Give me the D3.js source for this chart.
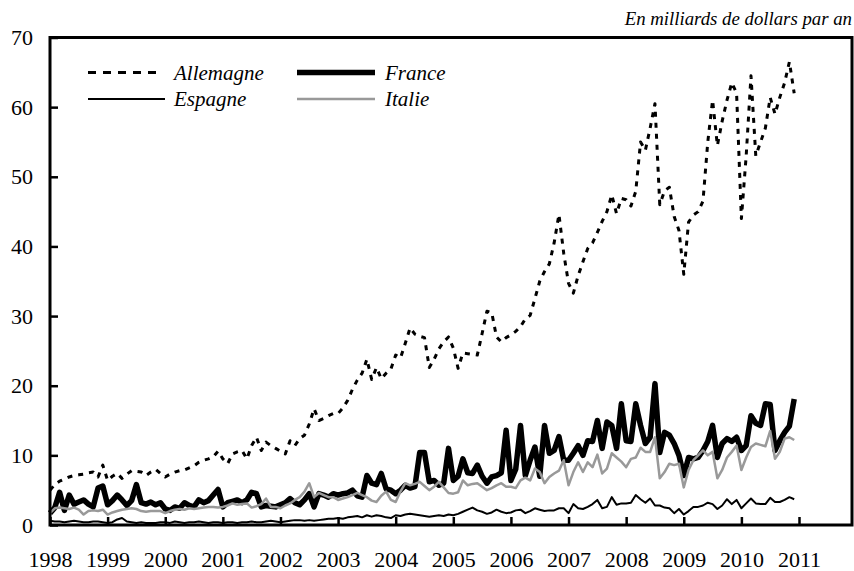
<!DOCTYPE html>
<html>
<head>
<meta charset="utf-8">
<script src="https://d3js.org/d3.v7.min.js"></script>
<style>
    body { margin: 0; background: #fff; }
    svg { display: block; }
    text { font-family: 'Liberation Serif', 'Times New Roman', serif; fill: #000; }
</style>
</head>
<body>
<div id="chart"></div>
<script>

// monthly data, jan 1998 -> dec 2010, billions of dollars per year
var startYear = 1998;

var tickYears = [1998, 1999, 2000, 2001, 2002, 2003, 2004, 2005, 2006, 2007, 2008, 2009, 2010, 2011];
var tickValues = [0, 10, 20, 30, 40, 50, 60, 70];

var allemagne = [
    5.0, 5.8, 6.3, 6.6, 6.9, 7.1, 7.2, 7.3, 7.5, 7.6, 6.9, 8.6,
    6.4, 7.0, 7.4, 6.7, 7.3, 7.8, 7.7, 7.6, 7.1, 7.6, 8.0, 7.4,
    6.9, 7.3, 7.6, 7.8, 7.9, 8.2, 8.5, 9.0, 9.3, 9.5, 9.8, 10.6,
    9.5, 8.8, 10.2, 10.5, 10.7, 9.5, 11.4, 12.6, 10.7, 11.9, 11.4, 11.0,
    10.6, 10.2, 12.1, 11.4, 12.4, 12.9, 14.5, 16.7, 15.0, 15.3, 15.7, 16.0,
    16.0, 16.8, 17.9, 19.5, 20.8, 21.8, 23.8, 20.9, 22.6, 21.0, 21.8, 22.4,
    24.4, 24.0, 26.1, 28.3, 27.4, 27.1, 26.9, 22.6, 23.8, 25.3, 26.3, 27.0,
    25.4, 22.5, 24.7, 24.6, 24.5, 24.4, 27.5, 30.7, 30.5, 27.0, 26.3, 26.9,
    27.3, 27.8, 28.5, 29.6, 30.1, 32.5, 35.0, 36.4, 37.5, 40.5, 44.6, 39.0,
    34.7, 33.3, 35.8, 37.8, 39.7, 40.5, 42.0, 43.6, 45.0, 47.4, 44.7, 46.9,
    46.7, 45.8, 47.9, 55.0, 53.8, 57.0, 60.5, 46.0, 48.0, 48.5, 44.3, 42.3,
    36.0, 43.5, 44.5, 45.0, 46.5, 55.0, 61.0, 54.5, 58.0, 61.0, 63.5, 62.0,
    44.0, 53.0, 64.5, 53.0, 55.0, 57.0, 61.4, 59.0, 61.4, 63.5, 66.5, 62.0
];

var france = [
    1.7, 2.5, 4.7, 2.1, 4.3, 3.0, 3.3, 3.6, 3.0, 2.6, 5.3, 5.6,
    2.9, 3.5, 4.3, 3.6, 2.8, 3.5, 5.8, 3.2, 3.0, 3.3, 2.9, 3.2,
    2.3, 2.1, 2.6, 2.4, 3.2, 2.8, 2.6, 3.6, 3.2, 3.5, 4.3, 5.1,
    2.6, 3.2, 3.4, 3.6, 3.2, 3.6, 4.7, 4.5, 2.6, 2.8, 2.7, 2.6,
    2.9, 3.2, 3.8, 3.2, 2.9, 3.6, 4.5, 2.6, 4.5, 4.3, 4.0, 4.5,
    4.3, 4.5, 4.6, 5.0, 4.2, 4.0, 7.1, 6.0, 5.8, 7.4, 5.2, 5.0,
    4.5, 5.0, 5.7, 5.3, 5.5, 10.4, 10.4, 6.2, 6.4, 5.7, 6.0, 11.0,
    6.4, 7.0, 9.5, 7.5, 7.4, 8.6, 7.0, 6.0, 6.9, 7.1, 7.5, 13.6,
    6.4, 8.0, 14.3, 7.1, 9.3, 11.2, 7.0, 14.3, 10.3, 10.7, 12.7, 9.3,
    9.3, 10.3, 11.4, 10.0, 12.1, 12.0, 15.0, 11.0, 14.8, 14.3, 11.0, 17.4,
    12.1, 12.0, 17.4, 14.3, 11.7, 12.6, 20.3, 10.4, 13.3, 12.9, 11.7, 10.0,
    7.1, 9.7, 9.5, 9.7, 10.7, 12.0, 14.3, 9.7, 11.7, 12.4, 12.0, 12.6,
    10.7, 11.4, 15.7, 14.6, 14.3, 17.4, 17.3, 10.7, 12.1, 13.3, 14.2, 18.1
];

var espagne = [
    0.6, 0.5, 0.5, 0.4, 0.5, 0.6, 0.5, 0.4, 0.4, 0.5, 0.5, 0.4,
    0.3, 0.4, 0.8, 1.0, 0.5, 0.4, 0.3, 0.4, 0.3, 0.3, 0.3, 0.4,
    0.4, 0.3, 0.5, 0.4, 0.3, 0.4, 0.4, 0.5, 0.4, 0.3, 0.4, 0.4,
    0.3, 0.4, 0.4, 0.3, 0.4, 0.4, 0.5, 0.4, 0.4, 0.5, 0.6, 0.5,
    0.4, 0.5, 0.6, 0.7, 0.7, 0.6, 0.7, 0.6, 0.7, 0.8, 0.9, 0.9,
    1.0, 0.9, 1.1, 1.2, 1.3, 1.1, 1.4, 1.2, 1.4, 1.3, 1.1, 1.0,
    1.4, 1.3, 1.5, 1.6, 1.5, 1.4, 1.3, 1.2, 1.3, 1.4, 1.3, 1.5,
    1.4, 1.6, 1.9, 2.2, 2.5, 2.1, 1.9, 1.6, 1.8, 2.2, 1.9, 1.7,
    1.8, 2.1, 2.2, 1.7, 2.0, 2.4, 2.2, 2.0, 2.1, 2.1, 2.4, 2.4,
    1.7, 3.0, 2.4, 2.3, 2.6, 3.0, 3.6, 2.4, 2.6, 4.0, 2.9, 3.1,
    3.1, 3.2, 4.3, 3.7, 3.2, 3.8, 2.8, 2.8, 2.5, 2.4, 1.7, 2.3,
    1.5, 2.0, 2.6, 2.6, 2.8, 3.2, 3.0, 2.3, 2.8, 3.7, 3.0, 3.6,
    2.4, 3.1, 3.8, 3.1, 3.0, 3.0, 3.9, 3.3, 3.3, 3.6, 4.0, 3.7
];

var italie = [
    1.7, 2.4, 2.5, 2.4, 2.3, 2.5, 2.2, 1.5, 2.0, 2.1, 2.0, 2.2,
    1.5, 1.8, 2.0, 2.2, 2.3, 2.4, 2.3, 2.0, 1.9, 2.0, 2.0, 2.0,
    1.7, 2.0, 2.2, 2.3, 2.2, 2.4, 2.3, 2.4, 2.5, 2.6, 2.6, 2.5,
    2.6, 2.8, 3.1, 2.9, 3.0, 3.1, 2.5, 2.7, 3.0, 3.8, 2.6, 2.6,
    2.4, 2.8, 3.1, 3.6, 4.0, 4.8, 6.0, 4.0, 4.6, 4.3, 4.0, 4.0,
    3.6, 3.8, 4.0, 4.3, 4.6, 4.3, 4.0, 3.5, 3.3, 4.2, 4.8, 3.6,
    3.3, 4.8, 6.0, 5.7, 5.9, 6.2, 5.6, 5.0, 5.5, 6.2, 5.4, 4.6,
    4.5, 4.7, 6.4, 5.7, 5.9, 6.0, 5.5, 5.0, 5.3, 5.7, 6.0, 5.5,
    5.5, 5.3, 6.4, 6.8, 6.4, 8.1, 7.6, 6.0, 6.9, 7.4, 7.8, 9.3,
    5.7, 7.6, 9.0, 7.6, 9.0, 8.3, 10.1, 7.4, 8.1, 10.3, 9.7, 9.1,
    8.3, 9.5, 9.7, 11.1, 10.5, 10.5, 12.6, 6.7, 7.6, 8.8, 8.6, 8.8,
    5.4, 7.9, 9.3, 10.0, 10.7, 10.0, 10.5, 6.7, 7.9, 9.7, 10.5, 11.4,
    7.9, 9.7, 11.2, 11.7, 11.5, 11.3, 13.5, 9.5, 10.5, 12.4, 12.6, 12.2
];

var series = [
    { name: 'Allemagne', values: allemagne, color: '#000', width: 3, dash: '5,6' },
    { name: 'France', values: france, color: '#000', width: 5.5, dash: null },
    { name: 'Espagne', values: espagne, color: '#000', width: 2, dash: null },
    { name: 'Italie', values: italie, color: '#999', width: 2.5, dash: null }
];

var chartW = 854,
    chartH = 571,
    plotLeft = 50,
    plotRight = 852,
    plotTop = 37.5,
    plotBottom = 525;

var svg = d3.select('#chart').append('svg')
    .attr('width', chartW)
    .attr('height', chartH);

var x = d3.scaleLinear()
    .domain([1998, 2011])
    .range([plotLeft, 799]);

var y = d3.scaleLinear()
    .domain([0, 70])
    .range([plotBottom, plotTop]);

var line = d3.line()
    .x(function(d, i){ return x(startYear + i / 12); })
    .y(function(d){ return y(d); });

// title
svg.append('text')
    .attr('x', plotRight)
    .attr('y', 25)
    .attr('text-anchor', 'end')
    .style('font-style', 'italic')
    .style('font-size', '18.8px')
    .text('En milliards de dollars par an');

// lines
svg.append('g')
    .selectAll('path')
    .data(series)
    .enter()
    .append('path')
        .attr('d', function(d){ return line(d.values); })
        .attr('fill', 'none')
        .attr('stroke', function(d){ return d.color; })
        .attr('stroke-width', function(d){ return d.width; })
        .attr('stroke-dasharray', function(d){ return d.dash; })
        .attr('stroke-linejoin', 'round');

// axes, ticks pointing inside
var xAxis = svg.append('g')
    .attr('transform', 'translate(0,' + plotBottom + ')')
    .call(d3.axisBottom(x)
        .tickValues(tickYears)
        .tickFormat(d3.format('d'))
        .tickSizeInner(-8)
        .tickSizeOuter(0)
        .tickPadding(26));

var yAxis = svg.append('g')
    .attr('transform', 'translate(' + plotLeft + ',0)')
    .call(d3.axisLeft(y)
        .tickValues(tickValues)
        .tickSizeInner(-8)
        .tickSizeOuter(0)
        .tickPadding(17));

[xAxis, yAxis].forEach(function(a){
    a.select('.domain').remove();
    a.selectAll('line').attr('stroke', '#000').attr('stroke-width', 2.5);
    a.selectAll('text')
        .style('font-family', "'Liberation Serif', 'Times New Roman', serif")
        .style('font-size', '22px')
        .attr('fill', '#000');
});

// frame
svg.append('rect')
    .attr('x', plotLeft)
    .attr('y', plotTop)
    .attr('width', plotRight - plotLeft)
    .attr('height', plotBottom - plotTop)
    .attr('fill', 'none')
    .attr('stroke', '#000')
    .attr('stroke-width', 3);

// legend
var legendPos = [
    { lx: 88, ly: 72.5 },
    { lx: 297, ly: 72.5 },
    { lx: 88, ly: 99 },
    { lx: 297, ly: 99 }
];

var legend = svg.append('g')
    .selectAll('g')
    .data(series)
    .enter()
    .append('g')
        .attr('transform', function(d, i){
            return 'translate(' + legendPos[i].lx + ',' + legendPos[i].ly + ')';
        });

legend.append('line')
    .attr('x1', 0)
    .attr('x2', function(d, i){ return i == 2 ? 77 : (i == 0 ? 69 : 78); })
    .attr('stroke', function(d){ return d.color; })
    .attr('stroke-width', function(d){ return d.width; })
    .attr('stroke-dasharray', function(d){ return d.dash ? '8,7' : null; });

legend.append('text')
    .attr('x', function(d, i){ return i % 2 == 0 ? 86 : 88; })
    .attr('y', 7)
    .style('font-style', 'italic')
    .style('font-size', '21px')
    .text(function(d){ return d.name; });

</script>
</body>
</html>
